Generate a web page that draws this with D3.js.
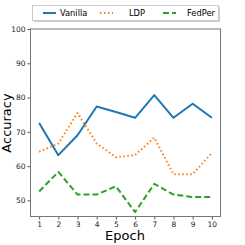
<!DOCTYPE html>
<html><head><meta charset="utf-8">
<script src="https://cdn.jsdelivr.net/npm/d3@7"></script>
<style>body{margin:0;background:#fff}svg{display:block}</style>
</head><body>
<script>
const epochs = [1,2,3,4,5,6,7,8,9,10];
const vanilla = [72.6,63.2,69.0,77.4,75.8,74.1,80.7,74.1,78.2,74.1];
const ldp = [64.2,66.6,75.5,66.6,62.6,63.2,68.3,57.6,57.6,63.9];
const fedper = [52.6,58.3,51.7,51.7,54.1,46.6,54.8,51.7,51.0,51.0];
const yTicks = [50,60,70,80,90,100];
const seriesNames = ["Vanilla","LDP","FedPer"];

const W=245,H=245;
const L=30.5,R=220.5,T=29,B=216.5;
const svg=d3.select("body").append("svg").attr("width",W).attr("height",H);
const x=d3.scaleLinear().domain([0.55,10.45]).range([L,R]);
const y=d3.scaleLinear().domain([45.3,100]).range([B,T]);
const font="DejaVu Sans, sans-serif";

const series=[
 {name:seriesNames[0],vals:vanilla,color:"#1f77b4",dash:null},
 {name:seriesNames[1],vals:ldp,color:"#ff7f0e",dash:"1.5,2.5"},
 {name:seriesNames[2],vals:fedper,color:"#2ca02c",dash:"6,3"}
];
const line=d3.line().x((d,i)=>x(epochs[i])).y(d=>y(d));
series.forEach(s=>{
  svg.append("path").attr("d",line(s.vals)).attr("fill","none")
   .attr("stroke",s.color).attr("stroke-width",2)
   .attr("stroke-dasharray",s.dash).attr("stroke-linejoin","round");
});

const xa=svg.append("g").attr("transform",`translate(0,${B})`)
 .call(d3.axisBottom(x).tickValues(epochs).tickSize(3).tickPadding(2).tickFormat(d3.format("d")));
const ya=svg.append("g").attr("transform",`translate(${L},0)`)
 .call(d3.axisLeft(y).tickValues(yTicks).tickSize(3).tickPadding(2));
[xa,ya].forEach(a=>{
  a.select(".domain").remove();
  a.selectAll("line").attr("stroke","#555");
  a.selectAll("text").attr("font-family",font).attr("font-size",7.5).attr("fill","#222");
});
svg.append("rect").attr("x",L).attr("y",T).attr("width",R-L).attr("height",B-T)
 .attr("fill","none").attr("stroke","#777").attr("stroke-width",1);

svg.append("text").attr("x",125).attr("y",240).attr("text-anchor","middle")
 .attr("font-family",font).attr("font-size",13).attr("fill","#000").text("Epoch");
svg.append("text").attr("transform","translate(11,123) rotate(-90)").attr("text-anchor","middle")
 .attr("font-family",font).attr("font-size",13).attr("fill","#000").text("Accuracy");

// legend
const lg=svg.append("g");
lg.append("rect").attr("x",34).attr("y",7).attr("width",186).attr("height",15).attr("fill","#999").attr("opacity",0.5);
lg.append("rect").attr("x",32.5).attr("y",5.5).attr("width",186).attr("height",15).attr("fill","#fff").attr("stroke","#ccc").attr("stroke-width",1);
const lx=[43,100,163], tx=[60,129,187];
series.forEach((s,i)=>{
  lg.append("line").attr("x1",lx[i]).attr("x2",lx[i]+13).attr("y1",13).attr("y2",13)
   .attr("stroke",s.color).attr("stroke-width",2).attr("stroke-dasharray",s.dash);
  lg.append("text").attr("x",tx[i]).attr("y",16).attr("font-family",font).attr("font-size",8.3)
   .attr("fill","#000").text(s.name);
});
</script>
</body></html>
